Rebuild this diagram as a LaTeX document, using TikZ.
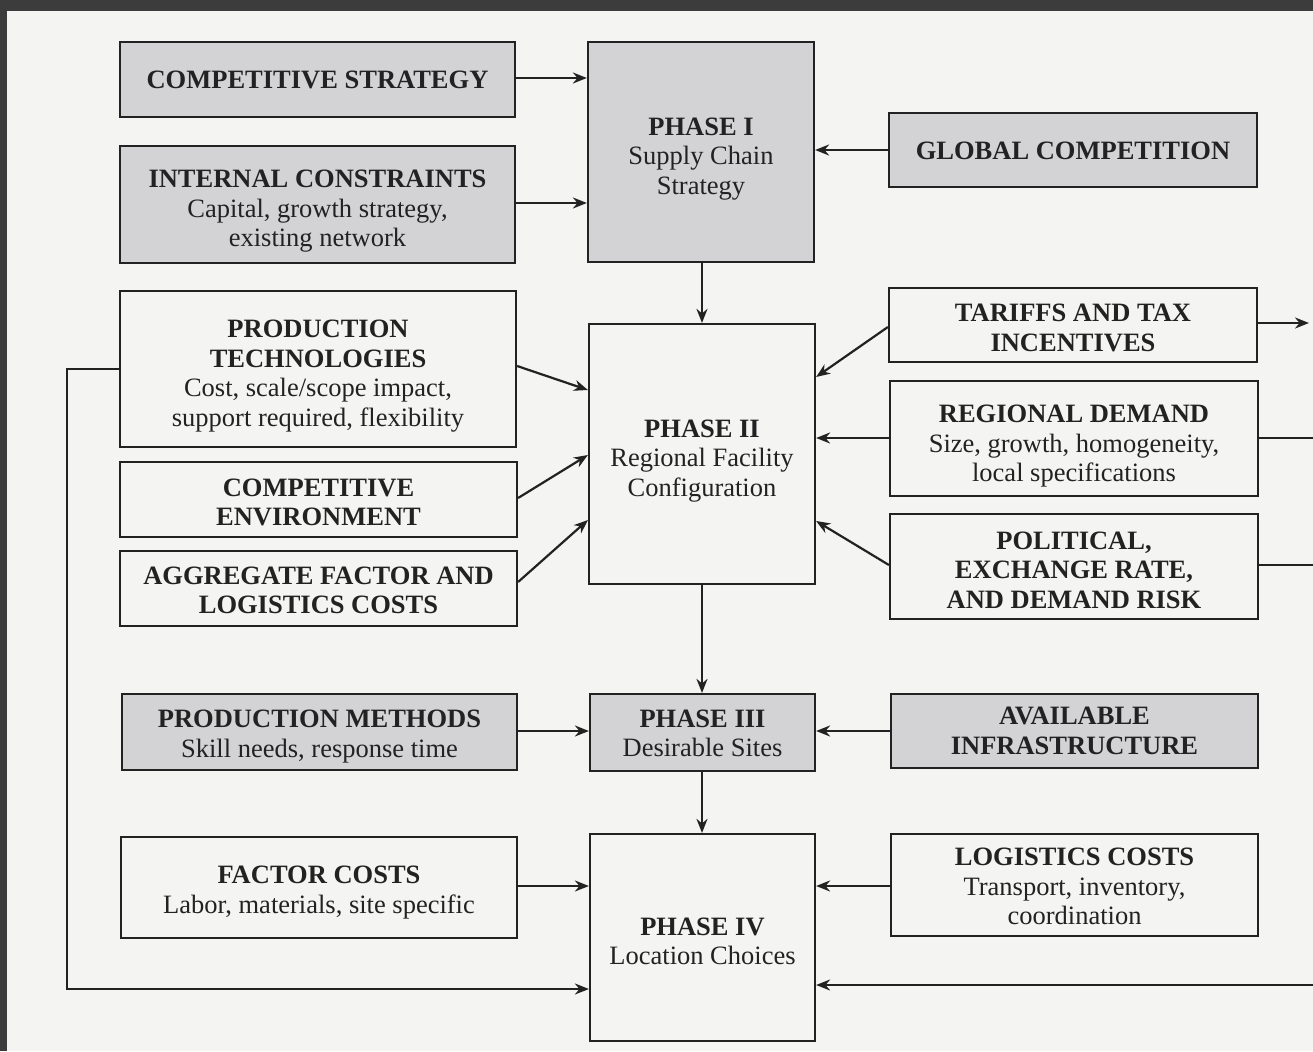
\documentclass[tikz,border=0pt]{standalone}
\usepackage{fontspec}
\setmainfont{Liberation Serif}
\usetikzlibrary{arrows.meta}
\definecolor{paper}{HTML}{F4F4F3}
\definecolor{shade}{HTML}{D3D3D5}
\definecolor{ink}{HTML}{222222}
\definecolor{frame}{HTML}{3C3C3C}
\tikzset{
  box/.style={draw=ink, line width=2.2pt, inner sep=0pt},
  grey/.style={box, fill=shade},
  white/.style={box, fill=paper},
  txt/.style={align=center, inner sep=0pt, font=\fontsize{26.5}{29.5}\selectfont, text=ink},
  arr/.style={draw=ink, line width=2.2pt, -{Stealth[length=14pt,width=11pt]}},
  ln/.style={draw=ink, line width=2.2pt},
}
% #1 style, #2 name, #3 cx, #4 cy, #5 width, #6 height, #7 text shift down, #8 text
\newcommand\bx[8]{%
  \node[#1, minimum width=#5pt, minimum height=#6pt] (#2) at (#3,#4) {};
  \node[txt] (#2-t) at ([yshift=-#7pt]#2.center) {#8};}
\begin{document}
\begin{tikzpicture}[x=1pt,y=-1pt]
\useasboundingbox (0,0) rectangle (1313,1051);
\fill[paper] (0,0) rectangle (1313,1051);
\fill[frame] (0,0) rectangle (1313,11);
\fill[frame] (0,0) rectangle (7,1051);

% left column
\bx{grey}{cs}{317.5}{79.5}{395}{75}{0}{\textbf{COMPETITIVE STRATEGY}}
\bx{grey}{ic}{317.5}{204.5}{395}{117}{7}{\textbf{INTERNAL CONSTRAINTS}\\Capital, growth strategy,\\existing network}
\bx{white}{pt}{318}{369}{396}{156}{7}{\textbf{PRODUCTION}\\\textbf{TECHNOLOGIES}\\Cost, scale/scope impact,\\support required, flexibility}
\bx{white}{ce}{318.5}{499.5}{397}{75}{3}{\textbf{COMPETITIVE}\\\textbf{ENVIRONMENT}}
\bx{white}{ag}{318.5}{588.5}{397}{75}{2}{\textbf{AGGREGATE FACTOR AND}\\\textbf{LOGISTICS COSTS}}
\bx{grey}{pm}{319.5}{732}{395}{76}{4.5}{\textbf{PRODUCTION METHODS}\\Skill needs, response time}
\bx{white}{fc}{319}{887.5}{396}{101}{5}{\textbf{FACTOR COSTS}\\Labor, materials, site specific}

% centre column
\bx{grey}{p1}{701}{152}{226}{220}{7}{\textbf{PHASE I}\\Supply Chain\\Strategy}
\bx{white}{p2}{702}{454}{226}{260}{7}{\textbf{PHASE II}\\Regional Facility\\Configuration}
\bx{grey}{p3}{702.5}{732.5}{225}{77}{1}{\textbf{PHASE III}\\Desirable Sites}
\bx{white}{p4}{702.5}{937.5}{225}{207}{4}{\textbf{PHASE IV}\\Location Choices}

% right column
\bx{grey}{gc}{1073}{150}{368}{74}{1}{\textbf{GLOBAL COMPETITION}}
\bx{white}{tt}{1073}{325}{368}{74}{3}{\textbf{TARIFFS AND TAX}\\\textbf{INCENTIVES}}
\bx{white}{rd}{1074}{438.5}{368}{115}{8}{\textbf{REGIONAL DEMAND}\\Size, growth, homogeneity,\\local specifications}
\bx{white}{po}{1074}{566.5}{368}{105}{3.5}{\textbf{POLITICAL,}\\\textbf{EXCHANGE RATE,}\\\textbf{AND DEMAND RISK}}
\bx{grey}{ai}{1074.5}{731}{367}{74}{0}{\textbf{AVAILABLE}\\\textbf{INFRASTRUCTURE}}
\bx{white}{lc}{1074.5}{885}{367}{102}{1.5}{\textbf{LOGISTICS COSTS}\\Transport, inventory,\\coordination}

% phase I inputs
\draw[arr] (cs.east |- 0,78) -- (p1.west |- 0,78);
\draw[arr] (ic.east |- 0,203) -- (p1.west |- 0,203);
\draw[arr] (gc.west |- 0,150) -- (p1.east |- 0,150);
% phase chain
\draw[arr] (p2.north |- p1.south) -- (p2.north);
\draw[arr] (p2.south) -- (p2.south |- p3.north);
\draw[arr] (p2.south |- p3.south) -- (p2.south |- p4.north);
% phase II inputs
\draw[arr] (pt.east |- 0,366) -- (p2.west |- 0,390);
\draw[arr] (ce.east |- 0,498) -- (p2.west |- 0,455);
\draw[arr] (ag.east |- 0,582) -- (p2.west |- 0,520);
\draw[arr] (tt.west |- 0,327) -- (p2.east |- 0,377);
\draw[arr] (rd.west |- 0,438) -- (p2.east |- 0,438);
\draw[arr] (po.west |- 0,565) -- (p2.east |- 0,521);
% phase III inputs
\draw[arr] (pm.east |- 0,731) -- (p3.west |- 0,731);
\draw[arr] (ai.west |- 0,731) -- (p3.east |- 0,731);
% phase IV inputs
\draw[arr] (fc.east |- 0,886) -- (p4.west |- 0,886);
\draw[arr] (lc.west |- 0,886) -- (p4.east |- 0,886);
% feedback lines
\coordinate (lft) at (67,369);
\draw[arr] (pt.west |- lft) -- (lft) -- (67,989) -- (p4.west |- 0,989);
\coordinate (rb) at (1313,985);
\draw[arr] (rb) -- (p4.east |- rb);
\coordinate (rt) at (1309,323);
\draw[arr] (tt.east |- rt) -- (rt);
\coordinate (rr) at (1313,438);
\draw[ln] (rd.east |- rr) -- (rr);
\coordinate (rp) at (1313,565);
\draw[ln] (po.east |- rp) -- (rp);
\end{tikzpicture}
\end{document}
